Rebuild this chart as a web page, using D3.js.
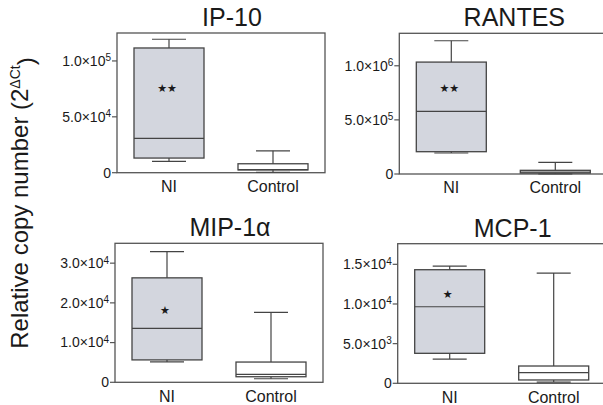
<!DOCTYPE html>
<html>
<head>
<meta charset="utf-8">
<script src="https://cdn.jsdelivr.net/npm/d3@7"></script>
<style>
  body { margin: 0; background: #fff; }
  text { font-family: "Liberation Sans", Arial, sans-serif; fill: #1a1a1a; }
</style>
</head>
<body>
<div id="chart"></div>
<script>

// data
var panelNames = ["IP-10", "RANTES", "MIP-1\u03b1", "MCP-1"];
var categories = ["NI", "Control"];

// [min, q1, median, q3, max] per category
var ip10Stats   = [[10200, 13100, 30700, 111600, 119400], [400, 2500, 2800, 8000, 19600]];
var rantesStats = [[194000, 206000, 579000, 1034000, 1231000], [2000, 9000, 18000, 34000, 108000]];
var mip1aStats  = [[5140, 5640, 13570, 26300, 32900], [900, 1400, 2000, 5100, 17600]];
var mcp1Stats   = [[3060, 3780, 9650, 14320, 14780], [160, 420, 1340, 2180, 13900]];

var yMax = [125000, 1300000, 35000, 17600];
var yTicks = [[0, 50000, 100000], [0, 500000, 1000000], [0, 10000, 20000, 30000], [0, 5000, 10000, 15000]];
var tickMant = [["0", "5.0", "1.0"], ["0", "5.0", "1.0"], ["0", "1.0", "2.0", "3.0"], ["0", "5.0", "1.0", "1.5"]];
var tickExp = [["", "4", "5"], ["", "5", "6"], ["", "4", "4", "4"], ["", "3", "4", "4"]];

var starValue = [75900, 797000, 18050, 11220];
var starText = ["\u2605\u2605", "\u2605\u2605", "\u2605", "\u2605"];

var allStats = [ip10Stats, rantesStats, mip1aStats, mcp1Stats];

// panel frames (px)
var layout = [
  {left: 117, top: 33, bottom: 172.7},
  {left: 399.3, top: 33.3, bottom: 174},
  {left: 115, top: 243.3, bottom: 382.3},
  {left: 397.7, top: 243.7, bottom: 383.3}
];
var panelW = 208;
var boxW = 70;
var capW = 34;
var lineCol = "#444";

var svg = d3.select("#chart").append("svg")
  .attr("width", 603)
  .attr("height", 405);

var x = d3.scaleBand().domain(categories).range([0, panelW]);

for (var p = 0; p < 4; p++) {
  var L = layout[p];
  var y = d3.scaleLinear().domain([0, yMax[p]]).range([L.bottom - L.top, 0]);
  var g = svg.append("g").attr("transform", "translate(" + L.left + "," + L.top + ")");
  var h = L.bottom - L.top;

  // frame
  g.append("rect")
    .attr("x", 0).attr("y", 0)
    .attr("width", panelW).attr("height", h)
    .style("fill", "none").style("stroke", "#555").style("stroke-width", 1.3);

  // y ticks
  var tk = g.selectAll("g.tick").data(yTicks[p]).enter().append("g")
    .attr("class", "tick")
    .attr("transform", function(d) { return "translate(0," + y(d) + ")"; });
  tk.append("line").attr("x1", -5).attr("x2", 0).style("stroke", "#555").style("stroke-width", 1.2);
  var tl = tk.append("text")
    .attr("x", -6)
    .attr("dy", "0.35em")
    .attr("text-anchor", "end")
    .style("font-size", "14px");
  (function(pp) {
    tl.each(function(d, i) {
      var t = d3.select(this);
      if (tickExp[pp][i] == "") {
        t.text(tickMant[pp][i]);
      } else {
        t.append("tspan").text(tickMant[pp][i] + "\u00d710");
        t.append("tspan").attr("dy", "-0.45em").style("font-size", "10px").text(tickExp[pp][i]);
      }
    });
  })(p);

  // boxes
  var stats = allStats[p];
  var bx = g.selectAll("g.box").data(categories).enter().append("g")
    .attr("class", "box")
    .attr("transform", function(d) { return "translate(" + (x(d) + x.bandwidth() / 2) + ",0)"; });

  (function(st) {
    // whiskers
    bx.append("line")
      .attr("x1", 0).attr("x2", 0)
      .attr("y1", function(d, i) { return y(st[i][0]); })
      .attr("y2", function(d, i) { return y(st[i][4]); })
      .style("stroke", lineCol).style("stroke-width", 1.2);
    bx.append("line")
      .attr("x1", -capW / 2).attr("x2", capW / 2)
      .attr("y1", function(d, i) { return y(st[i][0]); })
      .attr("y2", function(d, i) { return y(st[i][0]); })
      .style("stroke", lineCol).style("stroke-width", 1.2);
    bx.append("line")
      .attr("x1", -capW / 2).attr("x2", capW / 2)
      .attr("y1", function(d, i) { return y(st[i][4]); })
      .attr("y2", function(d, i) { return y(st[i][4]); })
      .style("stroke", lineCol).style("stroke-width", 1.2);
    // box
    bx.append("rect")
      .attr("x", -boxW / 2)
      .attr("width", boxW)
      .attr("y", function(d, i) { return y(st[i][3]); })
      .attr("height", function(d, i) { return y(st[i][1]) - y(st[i][3]); })
      .style("fill", function(d, i) { return i == 0 ? "#d3d6de" : "#fff"; })
      .style("stroke", lineCol).style("stroke-width", 1.3);
    // median
    bx.append("line")
      .attr("x1", -boxW / 2).attr("x2", boxW / 2)
      .attr("y1", function(d, i) { return y(st[i][2]); })
      .attr("y2", function(d, i) { return y(st[i][2]); })
      .style("stroke", lineCol).style("stroke-width", 1.2);
  })(stats);

  // significance stars
  g.append("text")
    .attr("x", x("NI") + x.bandwidth() / 2 - 2)
    .attr("y", y(starValue[p]))
    .attr("dy", "0.35em")
    .attr("text-anchor", "middle")
    .style("font-family", "DejaVu Sans")
    .style("font-size", "11px")
    .text(starText[p]);

  // category labels
  g.selectAll("text.cat").data(categories).enter().append("text")
    .attr("class", "cat")
    .attr("x", function(d) { return x(d) + x.bandwidth() / 2; })
    .attr("y", h + 19.5)
    .attr("text-anchor", "middle")
    .style("font-size", "16px")
    .text(function(d) { return d; });

  // title
  g.append("text")
    .attr("x", panelW / 2 + 11)
    .attr("y", -7)
    .attr("text-anchor", "middle")
    .style("font-size", "25px")
    .text(panelNames[p]);
}

// shared y label
var yl = svg.append("text")
  .attr("transform", "translate(28,203) rotate(-90)")
  .attr("text-anchor", "middle")
  .style("font-size", "24px");
yl.append("tspan").text("Relative copy number (2");
yl.append("tspan").attr("dy", "-0.55em").style("font-size", "14px").text("\u0394Ct");
yl.append("tspan").attr("dy", "0.55em").text(")");

</script>
</body>
</html>
